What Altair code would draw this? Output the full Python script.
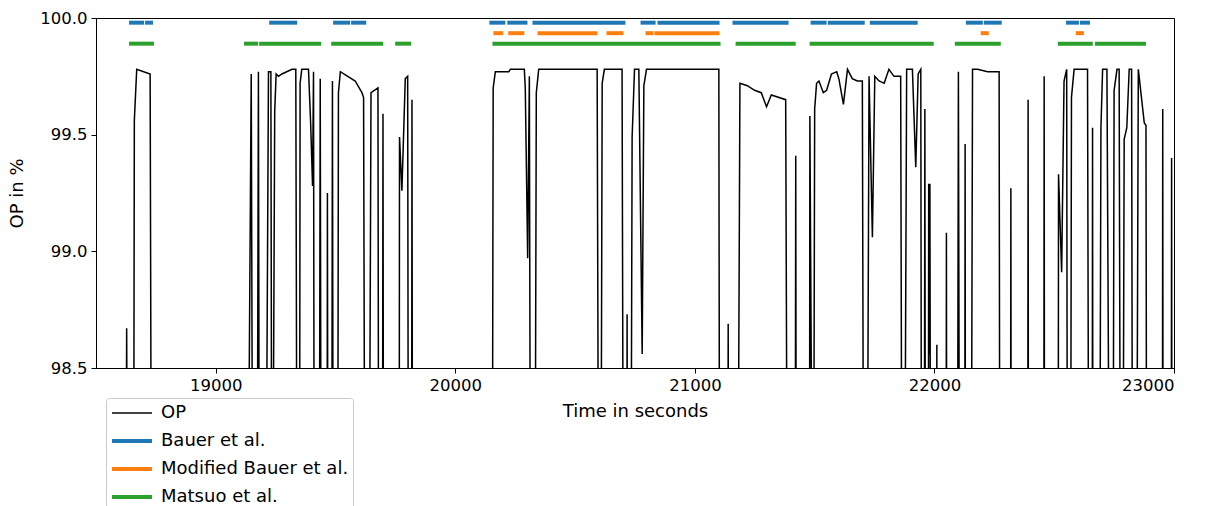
import altair as alt
import pandas as pd

# Readings below the displayed window are stored at this level; the line is clipped.
L = 97.0

op_time = [
    18623, 18628, 18634,
    18656, 18660, 18670, 18726, 18733,
    19130, 19148, 19156, 19171, 19178, 19183,
    19206, 19220, 19230, 19235, 19246, 19252, 19262, 19276, 19318, 19334, 19341,
    19349, 19352, 19359, 19387, 19396, 19404, 19408, 19412,
    19431, 19436, 19441,
    19464, 19466, 19469,
    19483, 19487, 19491,
    19508, 19512, 19520, 19582, 19610, 19617, 19624,
    19638, 19648, 19677, 19681,
    19695, 19698, 19701,
    19765, 19767, 19777, 19791, 19801, 19805,
    19817, 19819, 19822,
    20153, 20158, 20167, 20223, 20230, 20288, 20292, 20302, 20309, 20315,
    20331, 20338, 20348, 20592, 20600,
    20606, 20613, 20622, 20696, 20703,
    20715, 20717, 20720,
    20731, 20738, 20748, 20766, 20780, 20787, 20798, 21100, 21104,
    21137, 21139, 21142,
    21177, 21188, 21219, 21249, 21277, 21299, 21319, 21379, 21388,
    21418, 21421, 21424,
    21478, 21480, 21494, 21500, 21508, 21518, 21536, 21550, 21570, 21592, 21601,
    21620, 21637, 21657, 21678, 21699, 21706,
    21717, 21727, 21741, 21751, 21769, 21790, 21810, 21831, 21852, 21859, 21866,
    21873, 21884, 21908, 21922, 21932, 21943, 21947,
    21957, 21960, 21963,
    21974, 21976, 21979, 21981, 21985,
    22008, 22010, 22012,
    22048, 22050, 22052,
    22095, 22100, 22106,
    22126, 22128, 22130,
    22152, 22159, 22180, 22222, 22270, 22274,
    22317, 22319, 22321,
    22389, 22391, 22393,
    22456, 22458, 22460,
    22516, 22518, 22531, 22541, 22552, 22556,
    22567, 22572, 22583, 22639, 22646,
    22658, 22660, 22662,
    22688, 22695, 22702, 22720, 22734,
    22744, 22750, 22762, 22771, 22778,
    22785, 22792, 22803, 22813, 22823, 22828,
    22842, 22851, 22876, 22883, 22887,
    22951, 22953, 22955,
    22988, 22990, 22992,
]

op_value = [
    L, 98.67, L,
    L, 99.56, 99.78, 99.76, L,
    L, 99.76, L, L, 99.77, L,
    L, 99.77, 99.77, L, 99.60, 99.76, 99.75, 99.76, 99.78, 99.78, L,
    L, 99.72, 99.78, 99.78, 99.55, 99.28, 99.77, L,
    L, 99.74, L,
    L, 99.25, L,
    L, 99.73, L,
    L, 99.68, 99.77, 99.73, 99.68, 99.66, L,
    L, 99.68, 99.70, L,
    L, 99.59, L,
    L, 99.49, 99.26, 99.74, 99.75, L,
    L, 99.65, L,
    L, 99.70, 99.77, 99.77, 99.78, 99.78, 99.70, 98.97, 99.75, L,
    L, 99.68, 99.78, 99.78, L,
    L, 99.72, 99.78, 99.78, L,
    L, 98.73, L,
    L, 99.49, 99.78, 99.78, 98.56, 99.71, 99.78, 99.78, L,
    L, 98.69, L,
    L, 99.72, 99.71, 99.69, 99.68, 99.62, 99.67, 99.65, L,
    L, 99.41, L,
    L, 99.58, L, 99.61, 99.72, 99.73, 99.68, 99.69, 99.76, 99.77, 99.74,
    99.63, 99.78, 99.74, 99.73, 99.73, L,
    L, 99.75, 99.06, 99.75, 99.73, 99.72, 99.78, 99.75, 99.75, 99.75, L,
    L, 99.78, 99.78, 99.36, 99.76, 99.78, L,
    L, 99.61, L,
    L, 99.29, 98.56, 99.29, L,
    L, 98.60, L,
    L, 99.08, L,
    L, 99.77, L,
    L, 99.46, L,
    L, 99.78, 99.78, 99.77, 99.77, L,
    L, 99.27, L,
    L, 99.65, L,
    L, 99.75, L,
    L, 99.33, 98.91, 99.73, 99.78, L,
    L, 99.66, 99.78, 99.78, L,
    L, 99.53, L,
    L, 99.53, 99.78, 99.78, L,
    L, 99.69, 99.78, 99.78, L,
    L, 99.48, 99.53, 99.78, 99.78, L,
    L, 99.78, 99.55, 99.54, L,
    L, 99.61, L,
    L, 99.40, L,
]

# Detected intervals (start, end) in seconds for each method
bauer = [
    (18638, 18701), (18705, 18738), (19223, 19340), (19490, 19561), (19565, 19628),
    (20142, 20209), (20217, 20301), (20322, 20710), (20773, 20836), (20844, 21103),
    (21157, 21391), (21483, 21550), (21555, 21709), (21730, 21930),
    (22131, 22202), (22206, 22281), (22549, 22603), (22607, 22649),
]
modified_bauer = [
    (20159, 20200), (20221, 20288), (20343, 20593), (20631, 20702),
    (20794, 20827), (20831, 21103), (22193, 22227), (22590, 22624),
]
matsuo = [
    (18638, 18742), (19118, 19177), (19181, 19440), (19482, 19699), (19749, 19816),
    (20155, 21107), (21170, 21421), (21479, 21997), (22085, 22277),
    (22515, 22661), (22670, 22883),
]

series_names = ["OP", "Bauer et al.", "Modified Bauer et al.", "Matsuo et al."]
series_colors = ["black", "#1f77b4", "#ff7f0e", "#2ca02c"]
series_widths = [1.5, 4, 4, 4]
band_levels = [99.98, 99.935, 99.89]

x_ticks = [19000, 20000, 21000, 22000, 23000]
y_ticks = [98.5, 99.0, 99.5, 100.0]

op_df = pd.DataFrame({"t": op_time, "value": op_value, "series": "OP"})

rows = []
for name, level, spans in zip(series_names[1:], band_levels, [bauer, modified_bauer, matsuo]):
    for start, end in spans:
        rows.append({"start": start, "end": end, "level": level, "series": name})
band_df = pd.DataFrame(rows)

x_scale = alt.Scale(domain=[18500, 23000], nice=False, zero=False)
y_scale = alt.Scale(domain=[98.5, 100.0], nice=False, zero=False)

color_enc = alt.Color(
    "series:N",
    scale=alt.Scale(domain=series_names, range=series_colors),
    title=None,
)
width_enc = alt.StrokeWidth(
    "series:N",
    scale=alt.Scale(type="ordinal", domain=series_names, range=series_widths),
    title=None,
)

x_axis = alt.Axis(values=x_ticks, format="d", title="Time in seconds",
                  titlePadding=9, labelPadding=4)
y_axis = alt.Axis(values=y_ticks, format=".1f", title="OP in %",
                  titlePadding=13, labelPadding=4)

op_line = alt.Chart(op_df).mark_line(clip=True).encode(
    x=alt.X("t:Q", scale=x_scale, axis=x_axis),
    y=alt.Y("value:Q", scale=y_scale, axis=y_axis),
    color=color_enc,
    strokeWidth=width_enc,
    order="t:Q",
)

bands = alt.Chart(band_df).mark_rule(clip=True, strokeCap="butt").encode(
    x=alt.X("start:Q", scale=x_scale),
    x2="end:Q",
    y=alt.Y("level:Q", scale=y_scale),
    color=color_enc,
    strokeWidth=width_enc,
)

chart = (
    alt.layer(op_line, bands)
    .properties(
        width=1078,
        height=350,
        autosize=alt.AutoSizeParams(type="none"),
        padding={"left": 96, "top": 18, "right": 36, "bottom": 138},
        background="white",
    )
    .configure_view(stroke="black", strokeWidth=1)
    .configure_axis(
        labelFont="DejaVu Sans",
        titleFont="DejaVu Sans",
        labelFontSize=16.5,
        titleFontSize=18,
        titleFontWeight="normal",
        labelColor="black",
        titleColor="black",
        tickColor="black",
        domainColor="black",
        tickSize=5,
        tickWidth=1,
        domainWidth=1,
        grid=False,
    )
    .configure_legend(
        orient="none",
        legendX=10,
        legendY=380,
        padding=4,
        strokeColor="#cccccc",
        fillColor="white",
        cornerRadius=3,
        symbolType="M-1,0H3",
        symbolSize=400,
        rowPadding=7,
        labelFont="DejaVu Sans",
        labelFontSize=18,
        labelColor="black",
        labelOffset=27,
        labelLimit=400,
    )
)

chart.save("out.html", embed_options={"renderer": "svg", "actions": False})
